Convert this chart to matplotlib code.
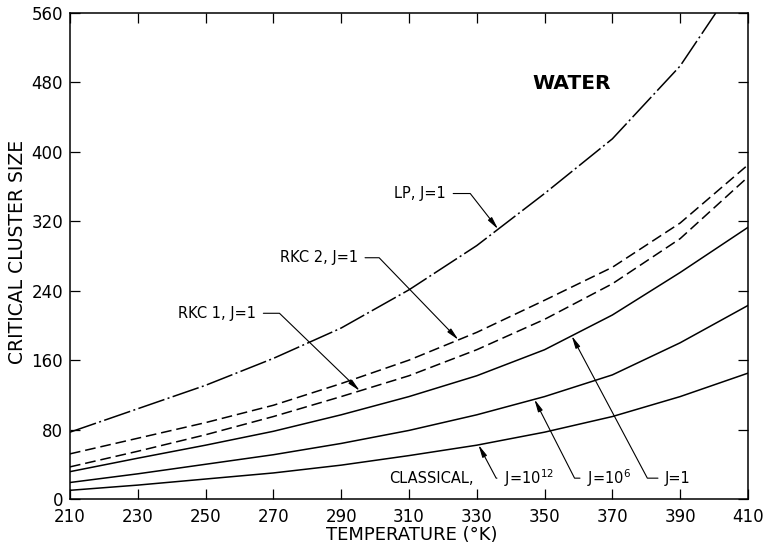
import numpy as np
import matplotlib
matplotlib.use("Agg")
import matplotlib.pyplot as plt

# Critical cluster size for water vs temperature
temps = [210, 230, 250, 270, 290, 310, 330, 350, 370, 390, 410]
classical_j1e12 = [10, 16, 23, 30, 39, 50, 62, 77, 95, 118, 145]
classical_j1e6 = [19, 29, 40, 51, 64, 79, 97, 118, 143, 180, 223]
classical_j1 = [31.5, 47, 62, 78, 97, 118, 142, 172, 212, 261, 313]
rkc1_j1 = [37, 55, 74, 95, 118, 142, 172, 207, 248, 300, 371]
rkc2_j1 = [52, 70, 88, 108, 133, 160, 192, 229, 267, 318, 385]
lp_temps = [210, 230, 250, 270, 290, 310, 330, 350, 370, 390, 400.5]
lp_j1 = [77, 104, 131, 162, 197, 241, 292, 352, 415, 499, 560]

x_ticks = [210, 230, 250, 270, 290, 310, 330, 350, 370, 390, 410]
y_ticks = [0, 80, 160, 240, 320, 400, 480, 560]

plt.rcParams['font.family'] = ['DejaVu Sans']

fig = plt.figure(figsize=(7.68, 5.54), dpi=100)
ax = fig.add_axes([0.0911, 0.0993, 0.8828, 0.8772])

lw = 1.1
ax.plot(temps, classical_j1e12, color='k', lw=lw)
ax.plot(temps, classical_j1e6, color='k', lw=lw)
ax.plot(temps, classical_j1, color='k', lw=lw)
ax.plot(temps, rkc1_j1, color='k', lw=lw, dashes=(7, 3.2))
ax.plot(temps, rkc2_j1, color='k', lw=lw, dashes=(7, 3.2))
ax.plot(lp_temps, lp_j1, color='k', lw=lw, dashes=(18, 2.2, 1.3, 2.2))

ax.set_xlim(210, 410)
ax.set_ylim(0, 560)
ax.set_xticks(x_ticks)
ax.set_yticks(y_ticks)
ax.tick_params(direction='in', length=7, width=0.9, top=True, right=True,
               labelsize=12, pad=5)
ax.tick_params(axis='x', pad=6.5)
for sp in ax.spines.values():
    sp.set_linewidth(1.1)

ax.set_xlabel('TEMPERATURE (°K)', fontsize=13)
ax.set_ylabel('CRITICAL CLUSTER SIZE', fontsize=13.5)
ax.xaxis.set_label_coords(0.504, -0.056)
ax.yaxis.set_label_coords(-0.064, 0.508)

ax.text(358, 479, 'WATER', fontsize=14.5, fontweight='bold', ha='center', va='center')

arrow = dict(arrowstyle='-|>,head_length=0.7,head_width=0.14', color='k', lw=0.8,
             shrinkA=3, shrinkB=0)


def label(text, tip_t, xs, ys, pos, ha, angle):
    tip = (tip_t, np.interp(tip_t, xs, ys))
    ax.annotate(text, xy=tip, xytext=pos, ha=ha, va='center', fontsize=10.5,
                arrowprops=dict(arrow, connectionstyle='angle,angleA=0,angleB=%g,rad=0' % angle))


label('LP, J=1', 336.3, lp_temps, lp_j1, (321, 352), 'right', -52)
label('RKC 2, J=1', 324.6, temps, rkc2_j1, (295, 278), 'right', -46)
label('RKC 1, J=1', 295.5, temps, rkc1_j1, (265, 214), 'right', -44)
label('J=10$^{12}$', 330.5, temps, classical_j1e12, (338, 24), 'left', 118)
label('J=10$^6$', 347, temps, classical_j1e6, (362.5, 24), 'left', 117)
label('J=1', 358, temps, classical_j1, (385.5, 24), 'left', 118)
ax.text(329, 24, 'CLASSICAL,', fontsize=10.5, ha='right', va='center')

fig.savefig('out.png', dpi=100)
